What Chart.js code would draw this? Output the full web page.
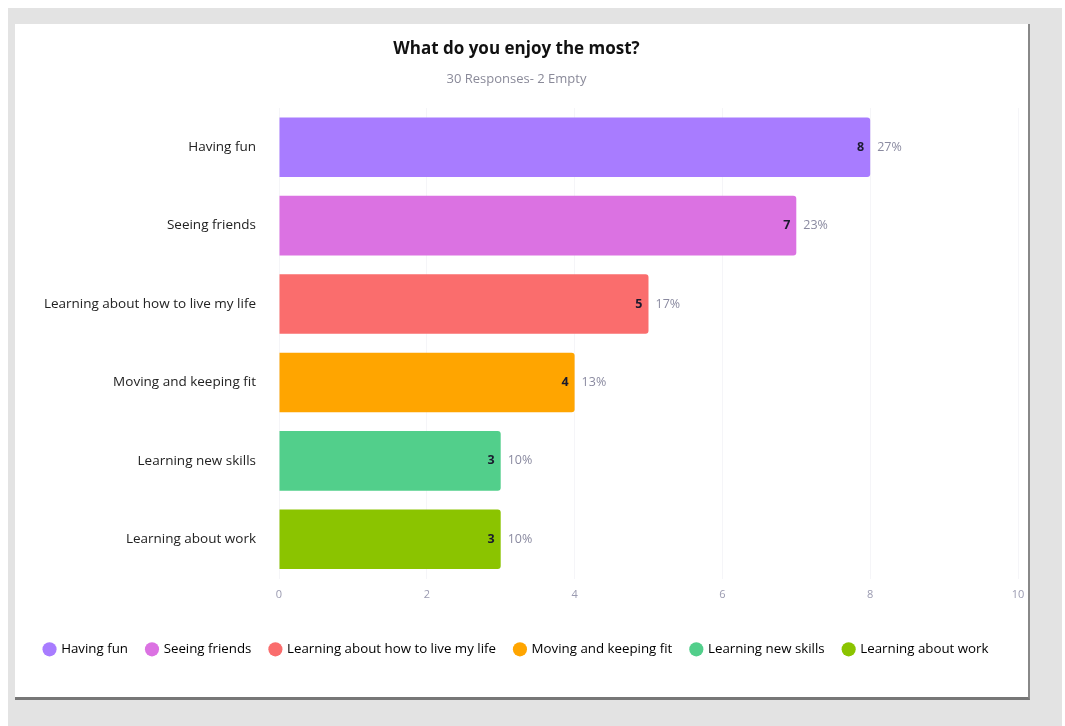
<!DOCTYPE html>
<html>
<head>
<meta charset="utf-8">
<script src="https://cdn.jsdelivr.net/npm/chart.js@4"></script>
<style>
  html, body { margin: 0; padding: 0; background: #fff; width: 1065px; height: 726px; overflow: hidden; }
  #backdrop { position: absolute; left: 8px; top: 8px; width: 1054px; height: 718px; background: #e3e3e3; }
  #card { position: absolute; left: 15px; top: 24px; width: 1013px; height: 673px; background: #fff;
          border-bottom: 3px solid #777; border-right: 2px solid #888; }
  #card canvas { position: absolute; left: 0; top: 0; }
</style>
</head>
<body>
<div id="backdrop"></div>
<div id="card"><canvas id="enjoyChart" width="1013" height="673"></canvas></div>
<script>
// Survey answers
const categories = [
    'Having fun',
    'Seeing friends',
    'Learning about how to live my life',
    'Moving and keeping fit',
    'Learning new skills',
    'Learning about work'
];
const counts = [8, 7, 5, 4, 3, 3];
const percents = ['27%', '23%', '17%', '13%', '10%', '10%'];
const barColors = ['#a87cff', '#db72e2', '#fa6d6d', '#ffa500', '#52cf8b', '#8bc400'];
const xTicks = [0, 2, 4, 6, 8, 10];

const FONT = '"Open Sans", Lato, sans-serif';

// draws "8  27%" at the end of each bar
const barLabels = {
    id: 'barLabels',
    afterDatasetsDraw(chart) {
        const ctx = chart.ctx;
        const meta = chart.getDatasetMeta(0);
        ctx.save();
        ctx.textBaseline = 'middle';
        meta.data.forEach((bar, i) => {
            ctx.font = 'bold 12.5px ' + FONT;
            ctx.fillStyle = '#1a1a2e';
            ctx.textAlign = 'right';
            ctx.fillText(counts[i], bar.x - 6, bar.y);
            ctx.font = '12.5px ' + FONT;
            ctx.fillStyle = '#8a8aa0';
            ctx.textAlign = 'left';
            ctx.fillText(percents[i], bar.x + 7, bar.y);
        });
        ctx.restore();
    }
};

const enjoyChart = new Chart(document.getElementById('enjoyChart'), {
    type: 'bar',
    data: {
        labels: categories,
        datasets: [{
            data: counts,
            backgroundColor: barColors,
            borderRadius: 3,
            borderSkipped: 'start',
            categoryPercentage: 1,
            barPercentage: 0.76
        }]
    },
    options: {
        indexAxis: 'y',
        responsive: false,
        animation: false,
        layout: {
            padding: { top: 0, right: 10, bottom: 31, left: 0 }
        },
        scales: {
            x: {
                min: 0,
                max: 10,
                afterBuildTicks: (scale) => {
                    scale.ticks = xTicks.map(v => ({ value: v }));
                },
                afterFit: (scale) => {
                    scale.height += 12;
                    scale.paddingRight = 0;
                },
                grid: { color: '#f5f5f8', drawTicks: false },
                border: { display: false },
                ticks: {
                    padding: 10,
                    color: '#9a9ab0',
                    font: { family: FONT, size: 11 }
                }
            },
            y: {
                afterFit: (scale) => { scale.width = 264; },
                grid: { display: false },
                border: { display: false },
                ticks: {
                    padding: 15,
                    color: '#222',
                    font: { family: FONT, size: 13.5 }
                }
            }
        },
        plugins: {
            title: {
                display: true,
                text: 'What do you enjoy the most?',
                color: '#111',
                font: { family: FONT, size: 17, weight: 'bold' },
                padding: { top: 15, bottom: 4 }
            },
            subtitle: {
                display: true,
                text: '30 Responses- 2 Empty',
                color: '#8a8a99',
                font: { family: FONT, size: 13 },
                padding: { top: 8, bottom: 21 }
            },
            legend: {
                position: 'bottom',
                labels: {
                    usePointStyle: true,
                    pointStyle: 'circle',
                    boxWidth: 10,
                    boxHeight: 10,
                    padding: 19,
                    color: '#222',
                    font: { family: FONT, size: 13.3 },
                    generateLabels: (chart) => categories.map((c, i) => ({
                        text: c,
                        fillStyle: barColors[i],
                        strokeStyle: barColors[i],
                        lineWidth: 0,
                        pointStyle: 'circle',
                        hidden: false,
                        index: i
                    }))
                },
                onClick: () => {}
            },
            tooltip: { enabled: false }
        }
    },
    plugins: [barLabels]
});
</script>
</body>
</html>
